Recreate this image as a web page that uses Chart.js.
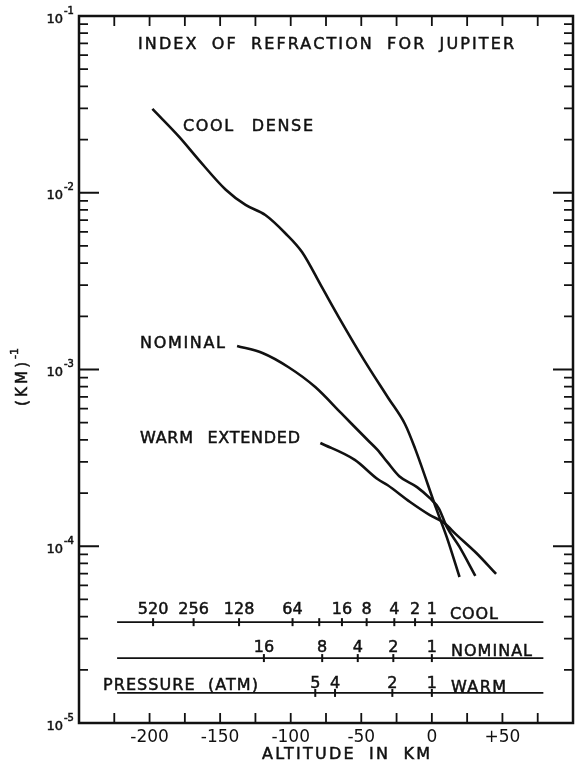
<!DOCTYPE html>
<html>
<head>
<meta charset="utf-8">
<script src="https://cdn.jsdelivr.net/npm/chart.js@4.4.1/dist/chart.umd.min.js"></script>
<style>
  html, body { margin: 0; padding: 0; background: #fff; }
  canvas { display: block; }
</style>
</head>
<body>
<canvas id="chart" width="579" height="766"></canvas>
<script>
// ==================== DATA ====================
// altitude (km) and index of refraction (km^-1)
const coolX = [-198, -179, -165, -146, -132, -118, -104, -92, -78, -66, -48, -31, -19, -12, 3.5, 10.5, 19.6];
const coolY = [2.98e-2, 2.07e-2, 1.53e-2, 1.04e-2, 8.53e-3, 7.48e-3, 5.92e-3, 4.62e-3, 2.93e-3, 1.98e-3, 1.13e-3, 6.92e-4, 4.90e-4, 3.59e-4, 1.60e-4, 1.13e-4, 6.70e-5];

const nominalX = [-138, -120, -101.5, -82.6, -64.4, -45.5, -38.5, -31.5, -23.1, -10.5, -1.4, 4.9, 10.5, 19.6, 30.8];
const nominalY = [1.36e-3, 1.24e-3, 1.03e-3, 7.96e-4, 5.68e-4, 3.99e-4, 3.51e-4, 2.99e-4, 2.49e-4, 2.16e-4, 1.87e-4, 1.64e-4, 1.29e-4, 9.91e-5, 6.79e-5];

const warmX = [-79, -54.6, -38.5, -31.5, -15.4, -1.4, 8.4, 17.5, 31.5, 45.5];
const warmY = [3.84e-4, 3.08e-4, 2.40e-4, 2.22e-4, 1.78e-4, 1.50e-4, 1.36e-4, 1.16e-4, 9.16e-5, 6.97e-5];

// pressure scales drawn inside the plot
const scaleStartX = -223;
const scaleEndX = 79;
const coolLevel = 3.72e-5;
const nominalLevel = 2.33e-5;
const warmLevel = 1.48e-5;

const coolPressX = [-197.5, -168.8, -136.6, -98.7, -79.8, -63.7, -46.2, -26.6, -11.9, 0];
const coolPressLabels = ["520", "256", "128", "64", "", "16", "8", "4", "2", "1"];
const nominalPressX = [-119, -77.7, -52.5, -27.3, 0];
const nominalPressLabels = ["16", "8", "4", "2", "1"];
const warmPressX = [-82.6, -68.6, -28, 0];
const warmPressLabels = ["5", "4", "2", "1"];

// axis tick labels
const xTickValues = [-200, -150, -100, -50, 0, 50];
const xTickLabels = ["-200", "-150", "-100", "-50", "0", "+50"];
const yTickExponents = [-1, -2, -3, -4, -5];

const FONT = '"DejaVu Sans", "Liberation Sans", sans-serif';
const INK = "#111";

// ==================== HELPERS ====================
function pts(xs, ys) {
  return xs.map((x, i) => ({ x, y: ys[i] }));
}

function flat(xs, level) {
  return xs.map(x => ({ x, y: level }));
}

// lettering is a bit heavier than the font, so fill + thin stroke
function ink(ctx, text, x, y) {
  ctx.fillText(text, x, y);
  ctx.lineWidth = 0.5;
  ctx.strokeText(text, x, y);
}

// caps text stretched between left and right, vertically centred on cy
function fitText(ctx, text, left, right, cy, size, wordGap = 6) {
  ctx.font = `${size}px ${FONT}`;
  ctx.wordSpacing = wordGap + "px";
  ctx.letterSpacing = "0px";
  const w = ctx.measureText(text).width;
  const sp = text.length > 1 ? (right - left - w) / (text.length - 1) : 0;
  ctx.letterSpacing = sp + "px";
  ctx.textAlign = "left";
  ctx.textBaseline = "alphabetic";
  ink(ctx, text, left, cy + size * 0.365);
  ctx.letterSpacing = "0px";
  ctx.wordSpacing = "0px";
}

function plainText(ctx, text, x, cy, size, align) {
  ctx.font = `${size}px ${FONT}`;
  ctx.textAlign = align;
  ctx.textBaseline = "alphabetic";
  ink(ctx, text, x, cy + size * 0.365);
}

// ==================== DECORATION PLUGIN ====================
const frame = {
  id: "frame",
  afterDraw(chart) {
    const { ctx, chartArea: a, scales } = chart;
    const xs = scales.x, ys = scales.y;
    ctx.save();
    ctx.strokeStyle = INK;
    ctx.fillStyle = INK;

    // box
    ctx.lineWidth = 2.5;
    ctx.strokeRect(a.left, a.top, a.right - a.left, a.bottom - a.top);

    // top / bottom ticks, every 25 km, pointing in
    ctx.lineWidth = 1.8;
    ctx.beginPath();
    for (let v = -225; v <= 75; v += 25) {
      const px = xs.getPixelForValue(v);
      ctx.moveTo(px, a.bottom); ctx.lineTo(px, a.bottom - 10);
      ctx.moveTo(px, a.top); ctx.lineTo(px, a.top + 10);
    }
    // left / right log ticks
    for (let e = -5; e <= -2; e++) {
      for (let k = 1; k <= 9; k++) {
        const py = ys.getPixelForValue(k * Math.pow(10, e));
        const len = k === 1 ? 20 : 9;
        ctx.moveTo(a.left, py); ctx.lineTo(a.left + len, py);
        ctx.moveTo(a.right, py); ctx.lineTo(a.right - len, py);
      }
    }
    ctx.stroke();

    // y tick labels 10^-n
    yTickExponents.forEach(e => {
      const py = ys.getPixelForValue(Math.pow(10, e));
      plainText(ctx, "10", 63, py + 2, 13, "right");
      plainText(ctx, String(e), 64, py - 6, 10, "left");
    });

    // y axis title (KM)^-1
    ctx.save();
    ctx.translate(22, 382);
    ctx.rotate(-Math.PI / 2);
    fitText(ctx, "(KM)", -24, 20, 0, 15);
    plainText(ctx, "-1", 23, -8, 11, "left");
    ctx.restore();

    // x axis title
    fitText(ctx, "ALTITUDE IN KM", 262, 430, 753, 16);

    // titles and curve labels
    fitText(ctx, "INDEX OF REFRACTION FOR JUPITER", 138, 514, 43, 16);
    fitText(ctx, "COOL DENSE", 183, 313, 125, 16, 10);
    fitText(ctx, "NOMINAL", 140, 225, 342, 16);
    fitText(ctx, "WARM EXTENDED", 140, 300, 437, 16, 8);

    // pressure scales
    const yc = ys.getPixelForValue(coolLevel);
    const yn = ys.getPixelForValue(nominalLevel);
    const yw = ys.getPixelForValue(warmLevel);
    coolPressX.forEach((v, i) => plainText(ctx, coolPressLabels[i], xs.getPixelForValue(v), yc - 14, 16, "center"));
    nominalPressX.forEach((v, i) => plainText(ctx, nominalPressLabels[i], xs.getPixelForValue(v), yn - 12, 16, "center"));
    warmPressX.forEach((v, i) => plainText(ctx, warmPressLabels[i], xs.getPixelForValue(v), yw - 11, 16, "center"));
    fitText(ctx, "COOL", 450, 498, yc - 9, 16);
    fitText(ctx, "NOMINAL", 451, 532, yn - 8, 16);
    fitText(ctx, "WARM", 451, 506, yw - 7, 16);
    fitText(ctx, "PRESSURE (ATM)", 103, 258, yw - 9, 16);

    ctx.restore();
  }
};

// ==================== CHART ====================
const curve = (data) => ({
  data,
  showLine: true,
  borderColor: INK,
  borderWidth: 2.6,
  pointRadius: 0,
  cubicInterpolationMode: "monotone"
});

const rule = (level) => ({
  data: flat([scaleStartX, scaleEndX], level),
  showLine: true,
  borderColor: INK,
  borderWidth: 1.8,
  pointRadius: 0
});

const marks = (xs, level) => ({
  data: flat(xs, level),
  showLine: false,
  pointStyle: "line",
  rotation: 90,
  pointRadius: 4,
  borderColor: INK,
  borderWidth: 2
});

new Chart(document.getElementById("chart"), {
  type: "scatter",
  data: {
    datasets: [
      curve(pts(coolX, coolY)),
      curve(pts(nominalX, nominalY)),
      curve(pts(warmX, warmY)),
      rule(coolLevel),
      rule(nominalLevel),
      rule(warmLevel),
      marks(coolPressX, coolLevel),
      marks(nominalPressX, nominalLevel),
      marks(warmPressX, warmLevel)
    ]
  },
  options: {
    responsive: false,
    devicePixelRatio: 1,
    animation: false,
    events: [],
    layout: { padding: { top: 16, right: 1, left: 0, bottom: 0 } },
    plugins: { legend: { display: false }, tooltip: { enabled: false } },
    scales: {
      x: {
        type: "linear",
        min: -250,
        max: 100,
        grid: { display: false, drawTicks: false },
        border: { display: false },
        ticks: {
          stepSize: 25,
          autoSkip: false,
          maxRotation: 0,
          padding: 4,
          color: INK,
          font: { family: FONT, size: 17 },
          callback: (v) => {
            const i = xTickValues.indexOf(v);
            return i >= 0 ? xTickLabels[i] : "";
          }
        },
        afterFit: (s) => {
          s.height = 43;
          s.paddingLeft = 0;
          s.paddingRight = 0;
        }
      },
      y: {
        type: "logarithmic",
        min: 1e-5,
        max: 1e-1,
        grid: { display: false, drawTicks: false },
        border: { display: false },
        ticks: { display: false },
        afterFit: (s) => {
          s.width = 79;
          s.paddingTop = 0;
          s.paddingBottom = 0;
        }
      }
    }
  },
  plugins: [frame]
});
</script>
</body>
</html>
